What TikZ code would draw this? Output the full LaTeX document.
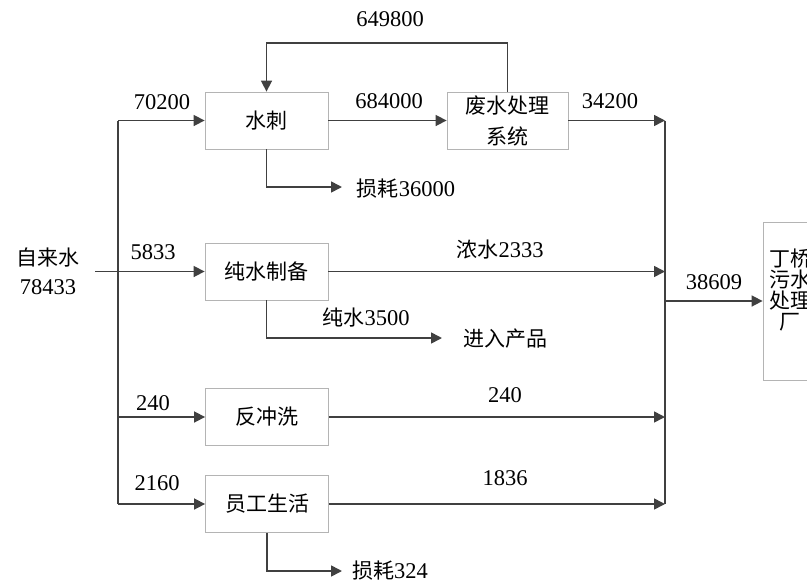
\documentclass[tikz,border=0pt]{standalone}
\usepackage{fontspec}
\setmainfont{Liberation Serif}
\newfontfamily\cjk{Noto Sans CJK SC}
\usetikzlibrary{arrows.meta}
\definecolor{linegray}{HTML}{404040}
\definecolor{boxgray}{HTML}{B4B4B4}
\begin{document}
\begin{tikzpicture}[x=1pt,y=-1pt,
  box/.style={draw=boxgray, line width=0.8pt, minimum width=123pt, minimum height=57pt, inner sep=0pt, align=center, font=\cjk\fontsize{21}{31}\selectfont},
  flow/.style={draw=linegray, line width=1.6pt, -{Triangle[length=11pt,width=11pt]}},
  link/.style={draw=linegray, line width=1.6pt},
  num/.style={font=\fontsize{22.5}{24}\selectfont, inner sep=0pt},
  zh/.style={font=\cjk\fontsize{21}{22}\selectfont, inner sep=0pt}]
\useasboundingbox (0,0) rectangle (807,582);
\clip (0,0) rectangle (807,582);
% boxes
\node[box] (sc) at (266.5,120.5) {水刺};
\node[box, minimum width=121pt] (fs) at (507.5,120.5) {废水处理\\系统};
\node[box] (pc) at (266.5,271.5) {纯水制备};
\node[box] (fc) at (267,417) {反冲洗};
\node[box] (yg) at (267,504) {员工生活};
\node[box, minimum width=55pt, minimum height=158pt] (dq) at (790.5,301) {};
\node[font=\cjk\fontsize{21}{21.3}\selectfont, align=center, inner sep=0pt] (dqt) at (790,290) {丁桥\\污水\\处理\\厂};
% source
\node[zh] (src1) at (48,258) {自来水};
\node[num] (src2) at (48,287) {78433};
% coordinates
\coordinate (s0) at (95,271.5);
\coordinate (j1) at (118,120.5);
\coordinate (j3) at (118,417);
\coordinate (j4) at (118,504);
\coordinate (c1) at (665,120.5);
\coordinate (c2) at (665,271.5);
\coordinate (c3) at (665,417);
\coordinate (c4) at (665,504);
\coordinate (o) at (665,301);
\coordinate (top) at (0,43);
\coordinate (l1) at (342,187);
\coordinate (p1) at (442,338);
\coordinate (l2) at (342,571);
% main feed
\draw[link] (j1) -- (j4);
\draw[flow] (s0) -- (pc.west);
\draw[flow] (j1) -- (sc.west);
\draw[flow] (j3) -- (fc.west);
\draw[flow] (j4) -- (yg.west);
% process flows
\draw[flow] (sc.east) -- (fs.west);
\draw[flow] (fs.north) -- (fs.north |- top) -| (sc.north);
\draw[flow] (sc.south) |- (l1);
\draw[flow] (pc.south) |- (p1);
\draw[flow] (yg.south) |- (l2);
% collector
\draw[link] (c1) -- (c4);
\draw[flow] (fs.east) -- (c1);
\draw[flow] (pc.east) -- (c2);
\draw[flow] (fc.east) -- (c3);
\draw[flow] (yg.east) -- (c4);
\draw[flow] (o) -- (dq.west);
% labels
\node[num] (n649800) at (390,19) {649800};
\node[num] (n70200) at (162,102) {70200};
\node[num] (n684000) at (389,101) {684000};
\node[num] (n34200) at (610,101) {34200};
\node[num] (nl1) at (406,189) {{\cjk\fontsize{21}{22}\selectfont 损耗}36000};
\node[num] (n5833) at (153,252) {5833};
\node[num] (nnong) at (500,250) {{\cjk\fontsize{21}{22}\selectfont 浓水}2333};
\node[num] (nchun) at (366,318) {{\cjk\fontsize{21}{22}\selectfont 纯水}3500};
\node[zh] (njin) at (505,339) {进入产品};
\node[num] (n240a) at (153,403) {240};
\node[num] (n240b) at (505,395) {240};
\node[num] (n2160) at (157,483) {2160};
\node[num] (n1836) at (505,478) {1836};
\node[num] (nl2) at (390,571) {{\cjk\fontsize{21}{22}\selectfont 损耗}324};
\node[num] (n38609) at (714,282) {38609};
\end{tikzpicture}
\end{document}
